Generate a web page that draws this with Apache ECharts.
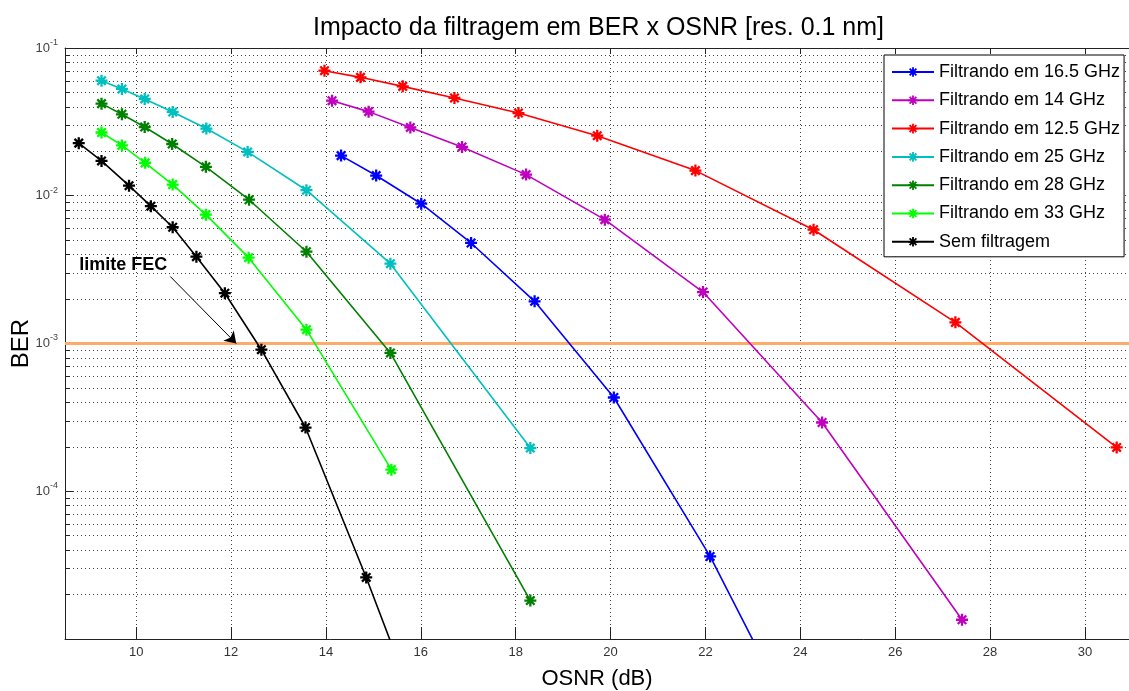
<!DOCTYPE html>
<html>
<head>
<meta charset="utf-8">
<title>Impacto da filtragem em BER x OSNR</title>
<script src="https://cdn.jsdelivr.net/npm/echarts@6/dist/echarts.min.js"></script>
<style>
html, body { margin: 0; padding: 0; background: #fff; }
#chart { width: 1129px; height: 691px; }
</style>
</head>
<body>
<div id="chart"></div>
<script>
// values: OSNR (dB) and BER for each curve
var osnr165 = [14.32, 15.06, 16.01, 17.06, 18.40, 20.07, 22.10, 24.5];
var ber165  = [1.87e-2, 1.37e-2, 8.83e-3, 4.79e-3, 1.93e-3, 4.31e-4, 3.62e-5, 1.13e-6];
var osnr14  = [14.13, 14.90, 15.78, 16.87, 18.22, 19.88, 21.95, 24.46, 27.41];
var ber14   = [4.40e-2, 3.71e-2, 2.90e-2, 2.14e-2, 1.39e-2, 6.89e-3, 2.23e-3, 2.92e-4, 1.35e-5];
var osnr125 = [13.97, 14.73, 15.62, 16.71, 18.06, 19.72, 21.79, 24.28, 27.27, 30.67];
var ber125  = [7.02e-2, 6.33e-2, 5.50e-2, 4.59e-2, 3.63e-2, 2.55e-2, 1.48e-2, 5.89e-3, 1.39e-3, 1.98e-4];
var osnr25  = [9.27, 9.70, 10.18, 10.77, 11.48, 12.35, 13.59, 15.36, 18.31];
var ber25   = [6.01e-2, 5.28e-2, 4.52e-2, 3.69e-2, 2.85e-2, 1.98e-2, 1.09e-2, 3.47e-3, 1.96e-4];
var osnr28  = [9.27, 9.70, 10.18, 10.76, 11.47, 12.38, 13.59, 15.36, 18.31];
var ber28   = [4.20e-2, 3.56e-2, 2.92e-2, 2.24e-2, 1.57e-2, 9.4e-3, 4.18e-3, 8.63e-4, 1.82e-5];
var osnr33  = [9.27, 9.70, 10.19, 10.77, 11.47, 12.37, 13.59, 15.38];
var ber33   = [2.68e-2, 2.19e-2, 1.67e-2, 1.19e-2, 7.45e-3, 3.81e-3, 1.24e-3, 1.40e-4];
var osnrSem = [8.79, 9.27, 9.85, 10.31, 10.77, 11.27, 11.87, 12.64, 13.57, 14.85, 16.45];
var berSem  = [2.27e-2, 1.72e-2, 1.17e-2, 8.5e-3, 6.12e-3, 3.87e-3, 2.19e-3, 9.08e-4, 2.70e-4, 2.61e-5, 1.16e-6];

// FEC limit line and its annotation
var fecOsnr = [8.5, 31];
var fecBer = [1e-3, 1e-3];
var fecLabelAt = [9.73, 3.41e-3];
var fecArrow = [[10.72, 2.84e-3], [12.11, 1.0e-3]];

// ticks
var xTicks = [10, 12, 14, 16, 18, 20, 22, 24, 26, 28, 30];
var yMajor = [1e-5, 1e-4, 1e-3, 1e-2, 1e-1];
var yLabels = [1e-4, 1e-3, 1e-2, 1e-1];
var yMinor = [2e-5, 3e-5, 4e-5, 5e-5, 6e-5, 7e-5, 8e-5, 9e-5,
              2e-4, 3e-4, 4e-4, 5e-4, 6e-4, 7e-4, 8e-4, 9e-4,
              2e-3, 3e-3, 4e-3, 5e-3, 6e-3, 7e-3, 8e-3, 9e-3,
              2e-2, 3e-2, 4e-2, 5e-2, 6e-2, 7e-2, 8e-2, 9e-2];

var FONT = 'Liberation Sans, Arial, Helvetica, sans-serif';
// matlab '*' marker
var asterisk = 'path://M-1.9,-10L1.9,-10L1.9,10L-1.9,10Z M-10,-1.9L10,-1.9L10,1.9L-10,1.9Z ' +
    'M-8.4,-5.7L-5.7,-8.4L8.4,5.7L5.7,8.4Z M5.7,-8.4L8.4,-5.7L-5.7,8.4L-8.4,5.7Z';
var grid = {color: '#000', width: 1, type: [1, 3], opacity: 0.75};

function curve(name, color, xs, ys) {
    return {
        name: name,
        type: 'line',
        data: xs.map(function (x, i) { return [x, ys[i]]; }),
        symbol: asterisk,
        symbolSize: 12,
        showSymbol: true,
        itemStyle: {color: color},
        lineStyle: {color: color, width: 1.6},
        emphasis: {disabled: true},
        z: 3
    };
}

var chart = echarts.init(document.getElementById('chart'));

chart.setOption({
    animation: false,
    textStyle: {fontFamily: FONT},
    title: {
        text: 'Impacto da filtragem em BER x OSNR [res. 0.1 nm]',
        left: 308,
        top: 11,
        textStyle: {fontFamily: FONT, fontSize: 25, fontWeight: 'normal', color: '#000'}
    },
    legend: {
        orient: 'vertical',
        left: 884,
        top: 55,
        padding: [7, 4, 5, 7],
        itemWidth: 42,
        itemHeight: 12,
        itemGap: 8.3,
        backgroundColor: '#fff',
        borderColor: '#000',
        borderWidth: 1,
        borderRadius: 0,
        textStyle: {fontFamily: FONT, fontSize: 18, color: '#000', lineHeight: 20},
        data: ['Filtrando em 16.5 GHz', 'Filtrando em 14 GHz', 'Filtrando em 12.5 GHz',
               'Filtrando em 25 GHz', 'Filtrando em 28 GHz', 'Filtrando em 33 GHz', 'Sem filtragem']
    },
    grid: {left: 65, right: 0, top: 48, bottom: 52, containLabel: false, outerBoundsMode: 'none'},
    xAxis: [{
        type: 'value',
        min: 8.5,
        max: 30.93,
        name: 'OSNR (dB)',
        nameLocation: 'middle',
        nameGap: 29,
        nameTextStyle: {fontFamily: FONT, fontSize: 22, color: '#000'},
        axisLine: {show: true, onZero: false, lineStyle: {color: '#222', width: 1}},
        axisTick: {show: true, inside: true, length: 12, customValues: xTicks, lineStyle: {color: '#222'}},
        axisLabel: {customValues: xTicks, fontSize: 13, color: '#333', margin: 7, fontFamily: FONT},
        splitLine: {show: true, lineStyle: grid}
    }, {
        type: 'value',
        position: 'top',
        min: 8.5,
        max: 30.93,
        axisLine: {show: true, onZero: false, lineStyle: {color: '#222', width: 1}},
        axisTick: {show: true, inside: true, length: 6, customValues: xTicks, lineStyle: {color: '#222'}},
        axisLabel: {show: false},
        splitLine: {show: false}
    }],
    yAxis: [{
        type: 'log',
        logBase: 10,
        min: 1e-5,
        max: 1e-1,
        name: 'BER',
        nameLocation: 'middle',
        nameGap: 31.5,
        nameRotate: 90,
        nameMoveOverlap: false,
        nameTextStyle: {fontFamily: FONT, fontSize: 24, color: '#000'},
        axisLine: {show: true, onZero: false, lineStyle: {color: '#222', width: 1}},
        axisTick: {show: true, inside: true, length: 8, customValues: yMajor, lineStyle: {color: '#222'}},
        axisLabel: {
            customValues: yLabels,
            margin: 7,
            formatter: function (v) {
                var e = Math.round(Math.log(v) / Math.LN10);
                return '{b|10}{e|' + e + '}';
            },
            rich: {
                b: {fontSize: 13, color: '#444', lineHeight: 20, fontFamily: FONT},
                e: {fontSize: 9, color: '#444', verticalAlign: 'top', lineHeight: 20, fontFamily: FONT}
            }
        },
        splitLine: {show: true, lineStyle: grid}
    }, {
        type: 'log',
        logBase: 10,
        position: 'left',
        min: 1e-5,
        max: 1e-1,
        axisLine: {show: false},
        axisTick: {show: true, inside: true, length: 5, customValues: yMinor, lineStyle: {color: '#222'}},
        axisLabel: {show: false},
        splitLine: {show: true, lineStyle: grid}
    }],
    series: [
        {
            name: 'FEC',
            type: 'line',
            data: fecOsnr.map(function (x, i) { return [x, fecBer[i]]; }),
            symbol: 'none',
            lineStyle: {color: '#FFAA66', width: 3},
            emphasis: {disabled: true},
            z: 2,
            markPoint: {
                symbol: 'circle',
                symbolSize: 0,
                data: [{coord: fecLabelAt}],
                label: {show: true, position: 'inside', formatter: 'limite FEC',
                        fontFamily: FONT, fontSize: 18, fontWeight: 'bold', color: '#000'}
            },
            markLine: {
                silent: true,
                symbol: ['none', 'arrow'],
                symbolSize: 11,
                lineStyle: {color: '#000', width: 1, type: 'solid'},
                label: {show: false},
                data: [[{coord: fecArrow[0]}, {coord: fecArrow[1]}]]
            }
        },
        curve('Filtrando em 16.5 GHz', '#0000FF', osnr165, ber165),
        curve('Filtrando em 14 GHz', '#BF00BF', osnr14, ber14),
        curve('Filtrando em 12.5 GHz', '#FF0000', osnr125, ber125),
        curve('Filtrando em 25 GHz', '#00BFBF', osnr25, ber25),
        curve('Filtrando em 28 GHz', '#008000', osnr28, ber28),
        curve('Filtrando em 33 GHz', '#00FF00', osnr33, ber33),
        curve('Sem filtragem', '#000000', osnrSem, berSem)
    ]
});

window.addEventListener('resize', function () {
    chart.resize();
});
</script>
</body>
</html>
